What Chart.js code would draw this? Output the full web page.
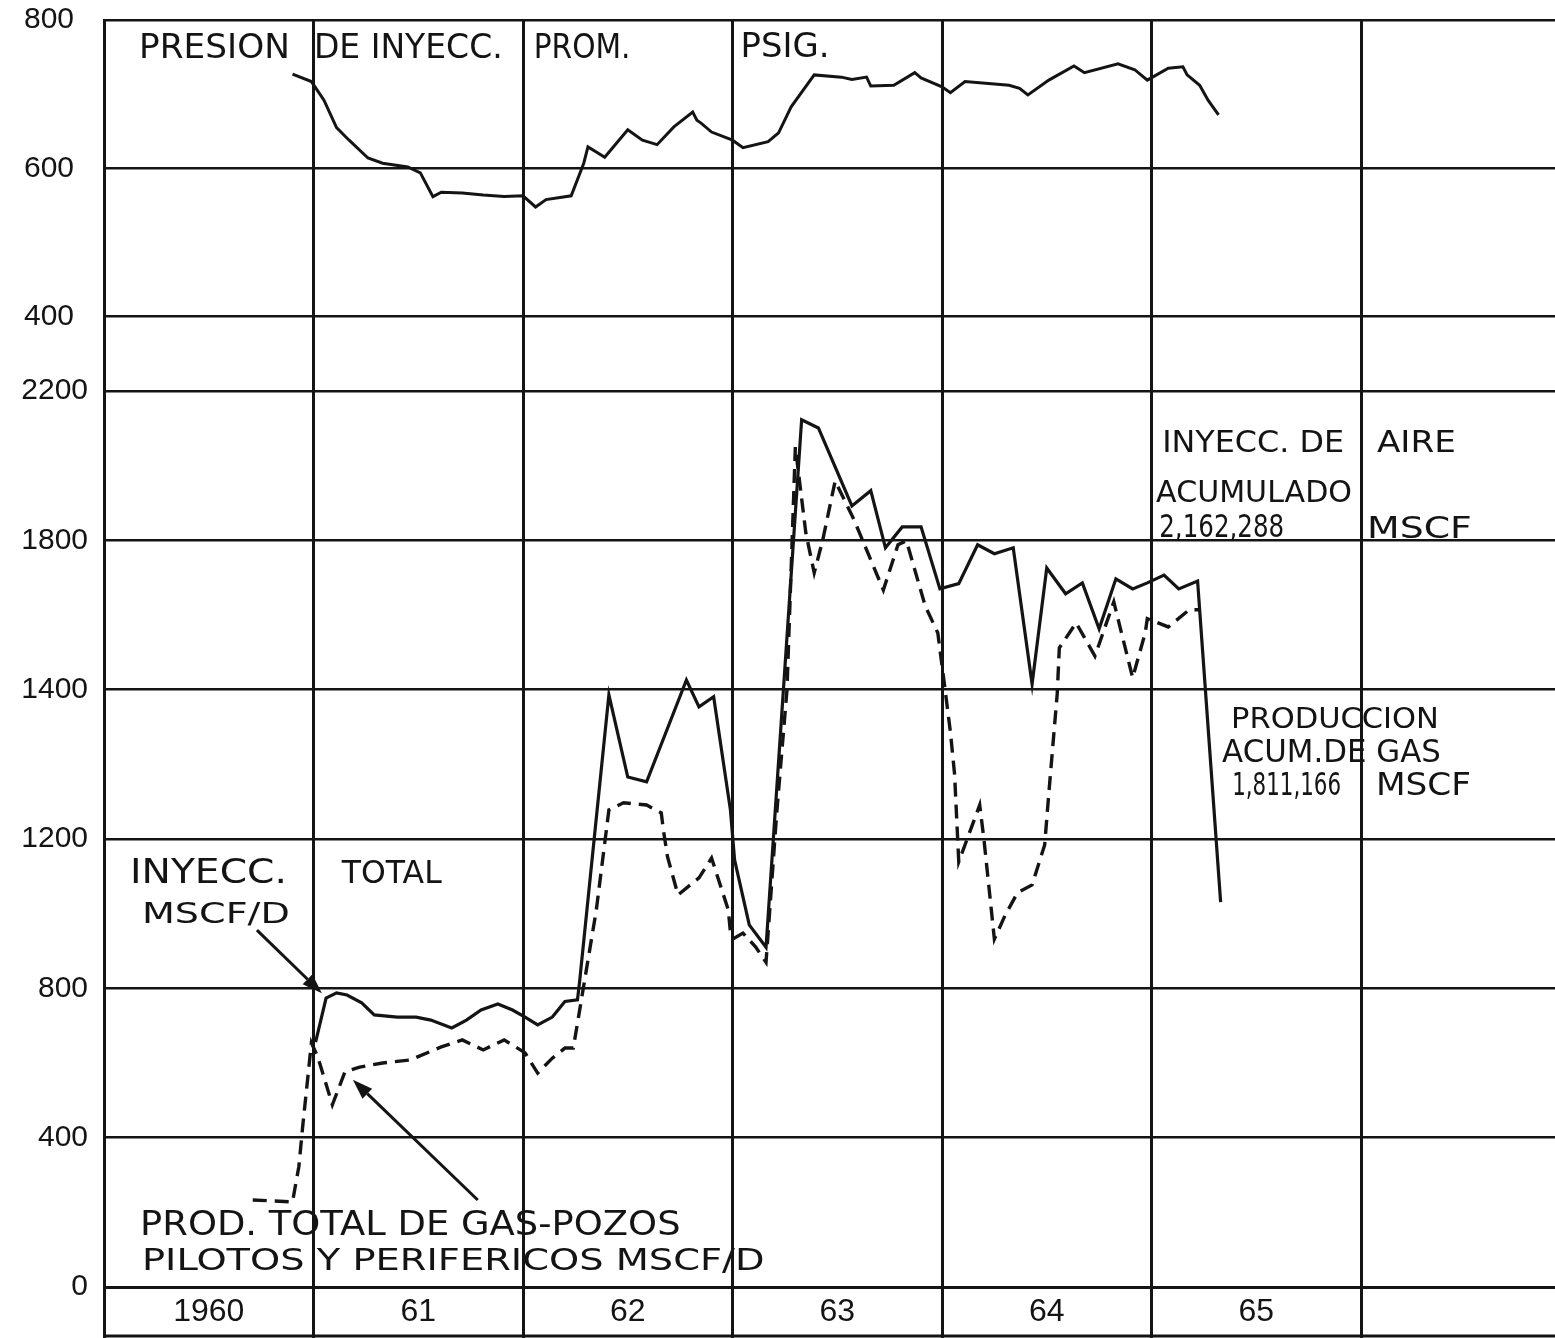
<!DOCTYPE html>
<html>
<head>
<meta charset="utf-8">
<script src="https://cdn.jsdelivr.net/npm/chart.js@4.4.1/dist/chart.umd.min.js"></script>
<style>
  html, body { margin: 0; padding: 0; background: #ffffff; }
  canvas { display: block; }
</style>
</head>
<body>
<canvas id="c" width="1555" height="1338"></canvas>
<script>
// ---------------- DATA ----------------
// x axis: years (column boundaries) and labels placed at mid-year
const yearStart = 1960;
const yearEnd = 1966;
const yearLabels = ["1960", "61", "62", "63", "64", "65"];

// top panel: average injection pressure, PSIG
const topTickValues = [400, 600, 800];
const topTickLabels = ["400", "600", "800"];
const pressureYears = [1960.90, 1960.99, 1961.05, 1961.11, 1961.17, 1961.26, 1961.33, 1961.45, 1961.51, 1961.57,
  1961.61, 1961.71, 1961.81, 1961.91, 1962.00, 1962.06, 1962.11, 1962.23, 1962.29, 1962.31,
  1962.35, 1962.39, 1962.50, 1962.57, 1962.64, 1962.72, 1962.81, 1962.83, 1962.85, 1962.90,
  1963.00, 1963.05, 1963.17, 1963.22, 1963.28, 1963.39, 1963.52, 1963.57, 1963.64, 1963.66,
  1963.77, 1963.87, 1963.90, 1964.00, 1964.04, 1964.11, 1964.32, 1964.37, 1964.41, 1964.51,
  1964.63, 1964.68, 1964.84, 1964.92, 1964.98, 1965.08, 1965.15, 1965.17, 1965.23, 1965.27, 1965.32];
const pressureValues = [727, 717, 692, 655, 638, 614, 607, 602, 594, 562,
  568, 567, 564, 562, 563, 548, 558, 563, 607, 629,
  622, 615, 652, 638, 632, 656, 676, 665, 661, 649,
  638, 628, 636, 648, 683, 726, 723, 720, 723, 711,
  712, 729, 722, 710, 702, 717, 712, 708, 699, 719,
  738, 729, 741, 733, 719, 735, 737, 726, 712, 692, 672];

// bottom panel: MSCF/D (tick labels as printed on the original graph)
const bottomTickValues = [0, 400, 800, 1200, 1600, 2000, 2400];
const bottomTickLabels = ["0", "400", "800", "1200", "1400", "1800", "2200"];

// total air injection, MSCF/D (solid line)
const injectionYears = [1961.01, 1961.06, 1961.11, 1961.16, 1961.23, 1961.29, 1961.40, 1961.49, 1961.56, 1961.66,
  1961.73, 1961.80, 1961.88, 1961.95, 1962.01, 1962.07, 1962.14, 1962.20, 1962.26, 1962.27,
  1962.41, 1962.50, 1962.59, 1962.78, 1962.84, 1962.91, 1962.99, 1963.01, 1963.08, 1963.16,
  1963.33, 1963.41, 1963.57, 1963.66, 1963.73, 1963.81, 1963.90, 1963.99, 1964.08, 1964.17,
  1964.25, 1964.34, 1964.43, 1964.50, 1964.59, 1964.67, 1964.75, 1964.83, 1964.91, 1964.98,
  1965.06, 1965.13, 1965.22, 1965.33];
const injectionValues = [656, 774, 788, 782, 761, 729, 723, 723, 715, 694,
  715, 742, 758, 742, 723, 702, 723, 765, 769, 817,
  1586, 1366, 1353, 1626, 1554, 1581, 1278, 1144, 970, 910,
  2323, 2301, 2092, 2133, 1980, 2036, 2036, 1870, 1884, 1988,
  1964, 1980, 1615, 1926, 1857, 1886, 1763, 1897, 1870, 1886,
  1907, 1870, 1891, 1031];

// total gas production, pilot + peripheral wells, MSCF/D (dashed line)
const productionYears = [1960.71, 1960.90, 1960.91, 1960.93, 1960.95, 1960.97, 1960.99, 1961.02, 1961.09, 1961.15,
  1961.22, 1961.33, 1961.46, 1961.61, 1961.71, 1961.81, 1961.91, 1962.01, 1962.07, 1962.14,
  1962.20, 1962.24, 1962.27, 1962.35, 1962.41, 1962.48, 1962.59, 1962.66, 1962.67, 1962.69,
  1962.74, 1962.84, 1962.90, 1962.98, 1962.99, 1963.01, 1963.05, 1963.11, 1963.16, 1963.21,
  1963.26, 1963.30, 1963.35, 1963.39, 1963.43, 1963.49, 1963.58, 1963.72, 1963.79, 1963.83,
  1963.92, 1963.98, 1964.01, 1964.04, 1964.06, 1964.08, 1964.18, 1964.20, 1964.25, 1964.30,
  1964.36, 1964.43, 1964.49, 1964.51, 1964.55, 1964.56, 1964.64, 1964.73, 1964.82, 1964.91,
  1964.97, 1964.98, 1965.08, 1965.18, 1965.23];
const productionValues = [233, 228, 260, 322, 439, 546, 654, 617, 488, 576,
  589, 600, 608, 643, 662, 635, 662, 627, 573, 613,
  640, 640, 740, 1010, 1278, 1297, 1291, 1270, 1224, 1152,
  1050, 1096, 1149, 1010, 951, 935, 948, 911, 870, 1262,
  1599, 2250, 2020, 1913, 1999, 2159, 2055, 1867, 1988, 1999,
  1824, 1752, 1621, 1487, 1374, 1139, 1291, 1200, 932, 994,
  1056, 1077, 1184, 1323, 1589, 1712, 1779, 1690, 1835, 1632,
  1752, 1790, 1768, 1814, 1814];

// ---------------- LAYOUT / STYLE ----------------
const INK = '#141414';
const labelFont = '"Liberation Sans", Arial, sans-serif';
const noteFont = '"DejaVu Sans", "Liberation Sans", sans-serif';

// hand-lettered notes, anchored in data coordinates (years / axis values)
const notes = [
  { t: 'PRESION', axis: 'yTop', x0: 1960.167, x1: 1960.887, y: 748.8, cap: 25 },
  { t: 'DE INYECC.', axis: 'yTop', x0: 1961.002, x1: 1961.903, y: 748.8, cap: 25 },
  { t: 'PROM.', axis: 'yTop', x0: 1962.051, x1: 1962.513, y: 748.8, cap: 25 },
  { t: 'PSIG.', axis: 'yTop', x0: 1963.038, x1: 1963.463, y: 750.1, cap: 24 },
  { t: 'INYECC. DE', axis: 'yBot', x0: 1965.051, x1: 1965.919, y: 2236.6, cap: 22 },
  { t: 'AIRE', axis: 'yBot', x0: 1966.076, x1: 1966.453, y: 2236.6, cap: 22 },
  { t: 'ACUMULADO', axis: 'yBot', x0: 1965.022, x1: 1965.957, y: 2102.7, cap: 22 },
  { t: '2,162,288', axis: 'yBot', x0: 1965.037, x1: 1965.633, y: 2009, cap: 23 },
  { t: 'MSCF', axis: 'yBot', x0: 1966.029, x1: 1966.529, y: 2006.3, cap: 22 },
  { t: 'PRODUCCION', axis: 'yBot', x0: 1965.380, x1: 1966.372, y: 1497.3, cap: 21 },
  { t: 'ACUM.DE GAS', axis: 'yBot', x0: 1965.337, x1: 1966.381, y: 1406.3, cap: 23 },
  { t: '1,811,166', axis: 'yBot', x0: 1965.385, x1: 1965.905, y: 1317.9, cap: 23 },
  { t: 'MSCF', axis: 'yBot', x0: 1966.071, x1: 1966.525, y: 1317.9, cap: 23 },
  { t: 'INYECC.', axis: 'yBot', x0: 1960.124, x1: 1960.873, y: 1082.1, cap: 24 },
  { t: 'TOTAL', axis: 'yBot', x0: 1961.135, x1: 1961.612, y: 1082.1, cap: 23 },
  { t: 'MSCF/D', axis: 'yBot', x0: 1960.181, x1: 1960.887, y: 975, cap: 21 },
  { t: 'PROD. TOTAL DE GAS-POZOS', axis: 'yBot', x0: 1960.172, x1: 1962.752, y: 139.3, cap: 25 },
  { t: 'PILOTOS Y PERIFERICOS MSCF/D', axis: 'yBot', x0: 1960.181, x1: 1963.153, y: 45.5, cap: 22 }
];
// arrows (tail -> tip) in data coordinates of the bottom panel
const arrows = [
  { x0: 1960.730, y0: 956, x1: 1961.040, y1: 787 },
  { x0: 1961.784, y0: 233, x1: 1961.188, y1: 555 }
];

const toPts = (xs, ys) => xs.map((x, i) => ({ x: x, y: ys[i] }));

const notesPlugin = {
  id: 'notes',
  afterDatasetsDraw(chart) {
    const ctx = chart.ctx;
    const xs = chart.scales.x;
    ctx.save();
    ctx.fillStyle = INK;
    ctx.strokeStyle = INK;
    ctx.textBaseline = 'alphabetic';
    ctx.textAlign = 'left';
    for (const n of notes) {
      const ys = chart.scales[n.axis];
      const px0 = xs.getPixelForValue(n.x0);
      const px1 = xs.getPixelForValue(n.x1);
      const py = ys.getPixelForValue(n.y);
      const size = n.cap / 0.729;
      ctx.font = `${size}px ${noteFont}`;
      const w = ctx.measureText(n.t).width;
      ctx.save();
      ctx.translate(px0, py);
      ctx.scale((px1 - px0) / w, 1);
      ctx.fillText(n.t, 0, 0);
      ctx.restore();
    }
    const yb = chart.scales.yBot;
    ctx.lineWidth = 3;
    for (const a of arrows) {
      const ax0 = xs.getPixelForValue(a.x0), ay0 = yb.getPixelForValue(a.y0);
      const ax1 = xs.getPixelForValue(a.x1), ay1 = yb.getPixelForValue(a.y1);
      const ang = Math.atan2(ay1 - ay0, ax1 - ax0);
      const L = 20, H = 7;
      const bx = ax1 - L * Math.cos(ang), by = ay1 - L * Math.sin(ang);
      ctx.beginPath();
      ctx.moveTo(ax0, ay0);
      ctx.lineTo(bx, by);
      ctx.stroke();
      ctx.beginPath();
      ctx.moveTo(ax1, ay1);
      ctx.lineTo(bx + H * Math.sin(ang), by - H * Math.cos(ang));
      ctx.lineTo(bx - H * Math.sin(ang), by + H * Math.cos(ang));
      ctx.closePath();
      ctx.fill();
    }
    // closing line under the year-label row
    const area = chart.chartArea;
    ctx.lineWidth = 3;
    ctx.beginPath();
    ctx.moveTo(area.left, chart.height - 2);
    ctx.lineTo(chart.width, chart.height - 2);
    ctx.stroke();
    ctx.restore();
  }
};

const whiteBg = {
  id: 'whiteBg',
  beforeDraw(chart) {
    const ctx = chart.ctx;
    ctx.save();
    ctx.fillStyle = '#ffffff';
    ctx.fillRect(0, 0, chart.width, chart.height);
    ctx.restore();
  }
};

const isWhole = v => Math.abs(v - Math.round(v)) < 1e-6;
const noPad = s => { s.paddingTop = 0; s.paddingBottom = 0; s.paddingLeft = 0; s.paddingRight = 0; };

new Chart(document.getElementById('c'), {
  type: 'line',
  data: {
    datasets: [
      {
        label: 'PRESION DE INYECC. PROM. PSIG.',
        data: toPts(pressureYears, pressureValues),
        yAxisID: 'yTop',
        borderColor: INK,
        borderWidth: 3,
        pointRadius: 0,
        tension: 0,
        fill: false
      },
      {
        label: 'INYECC. TOTAL MSCF/D',
        data: toPts(injectionYears, injectionValues),
        yAxisID: 'yBot',
        borderColor: INK,
        borderWidth: 3.2,
        pointRadius: 0,
        tension: 0,
        fill: false
      },
      {
        label: 'PROD. TOTAL DE GAS-POZOS PILOTOS Y PERIFERICOS MSCF/D',
        data: toPts(productionYears, productionValues),
        yAxisID: 'yBot',
        borderColor: INK,
        borderWidth: 3.4,
        borderDash: [14, 8],
        pointRadius: 0,
        tension: 0,
        fill: false
      }
    ]
  },
  options: {
    responsive: false,
    animation: false,
    devicePixelRatio: 1,
    layout: { autoPadding: false, padding: { top: 20, left: 0, right: 0, bottom: 0 } },
    plugins: {
      legend: { display: false },
      tooltip: { enabled: false }
    },
    scales: {
      x: {
        type: 'linear',
        min: yearStart,
        max: 1966.926,
        afterBuildTicks(scale) {
          const t = [];
          for (let y = yearStart; y <= yearEnd; y++) {
            t.push({ value: y });
            if (y < yearStart + yearLabels.length) t.push({ value: y + 0.5 });
          }
          scale.ticks = t;
        },
        afterFit(scale) { scale.height = 51; noPad(scale); },
        grid: {
          color: c => (c.tick && isWhole(c.tick.value)) ? INK : 'rgba(0,0,0,0)',
          lineWidth: 3,
          drawTicks: true,
          tickLength: 51
        },
        border: { display: true, color: INK, width: 3 },
        ticks: {
          autoSkip: false,
          maxRotation: 0,
          minRotation: 0,
          padding: -45,
          color: INK,
          font: { family: labelFont, size: 32 },
          callback: (v) => isWhole(v) ? '' : (yearLabels[Math.floor(v) - yearStart] || '')
        }
      },
      yTop: {
        type: 'linear',
        position: 'left',
        stack: 'panels',
        stackWeight: 371,
        weight: 2,
        min: 300,
        max: 800,
        afterBuildTicks(scale) { scale.ticks = topTickValues.map(v => ({ value: v })); },
        afterFit(scale) { scale.width = 104; noPad(scale); },
        grid: { color: INK, lineWidth: 2.6, drawTicks: false },
        border: { display: true, color: INK, width: 3 },
        ticks: {
          padding: 30,
          color: INK,
          font: { family: labelFont, size: 30 },
          callback: (v) => topTickLabels[topTickValues.indexOf(v)]
        }
      },
      yBot: {
        type: 'linear',
        position: 'left',
        stack: 'panels',
        stackWeight: 896,
        weight: 1,
        min: 0,
        max: 2400,
        afterBuildTicks(scale) { scale.ticks = bottomTickValues.map(v => ({ value: v })); },
        afterFit(scale) { scale.width = 104; noPad(scale); },
        grid: { color: INK, lineWidth: 2.6, drawTicks: false },
        border: { display: true, color: INK, width: 3 },
        ticks: {
          padding: 16,
          color: INK,
          font: { family: labelFont, size: 30 },
          callback: (v) => bottomTickLabels[bottomTickValues.indexOf(v)]
        }
      }
    }
  },
  plugins: [whiteBg, notesPlugin]
});
</script>
</body>
</html>
